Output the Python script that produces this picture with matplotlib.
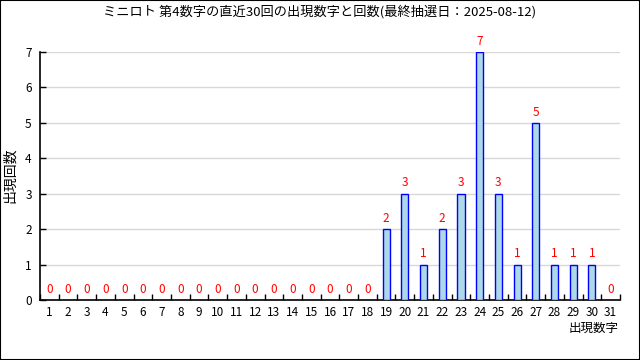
import matplotlib

matplotlib.use("Agg")

import matplotlib.pyplot as plt
from matplotlib.patches import Rectangle

plt.rcParams["font.family"] = ["Noto Sans CJK JP", "DejaVu Sans"]

numbers = list(range(1, 32))
counts = [0] * 18 + [2, 3, 1, 2, 3, 7, 3, 1, 5, 1, 1, 1, 0]
y_ticks = list(range(0, 8))

title = "ミニロト 第4数字の直近30回の出現数字と回数(最終抽選日：2025-08-12)"

fig = plt.figure(figsize=(6.4, 3.6), dpi=100)
fig.patch.set_facecolor("white")
ax = fig.add_axes([40 / 640, 1 - 300 / 360, 580 / 640, 248 / 360])

xs = list(range(len(numbers)))
ax.bar(xs, counts, width=0.38, color="#add8e6", edgecolor="#0000ff", linewidth=1, zorder=3)
for x, c in zip(xs, counts):
    ax.text(x, c + 0.12, str(c), ha="center", va="bottom", color="red", fontsize=8.5, clip_on=False)

ax.set_xlim(-0.5, len(numbers) - 0.5)
ax.set_ylim(0, 7)
ax.set_yticks(y_ticks)
ax.set_yticklabels([str(v) for v in y_ticks], fontsize=8.5)
ax.set_xticks(xs)
ax.set_xticklabels([str(n) for n in numbers], fontsize=8.5)
ax.tick_params(axis="x", length=0, pad=4)
ax.set_xticks([x + 0.5 for x in xs[:-1]] + [-0.5, len(numbers) - 0.5], minor=True)
ax.tick_params(axis="x", which="minor", direction="in", length=4, width=1)
ax.tick_params(axis="y", direction="in", length=4, width=1, pad=6)
ax.grid(axis="y", color="#d8d8d8", linewidth=1, zorder=0)
for s in ("top", "right"):
    ax.spines[s].set_visible(False)
for s in ("left", "bottom"):
    ax.spines[s].set_linewidth(1.2)

fig.text(0.5, 1 - 12 / 360, title, ha="center", va="center", fontsize=9.5)
fig.text(10 / 640, 1 - 175 / 360, "出現回数", rotation=90, ha="center", va="center", fontsize=10)
fig.text(619 / 640, 1 - 328 / 360, "出現数字", ha="right", va="center", fontsize=9)

fig.add_artist(Rectangle((0, 0), 1, 1, transform=fig.transFigure, fill=False,
                         edgecolor="black", linewidth=1.5))

fig.savefig("out.png", dpi=100, facecolor="white")
